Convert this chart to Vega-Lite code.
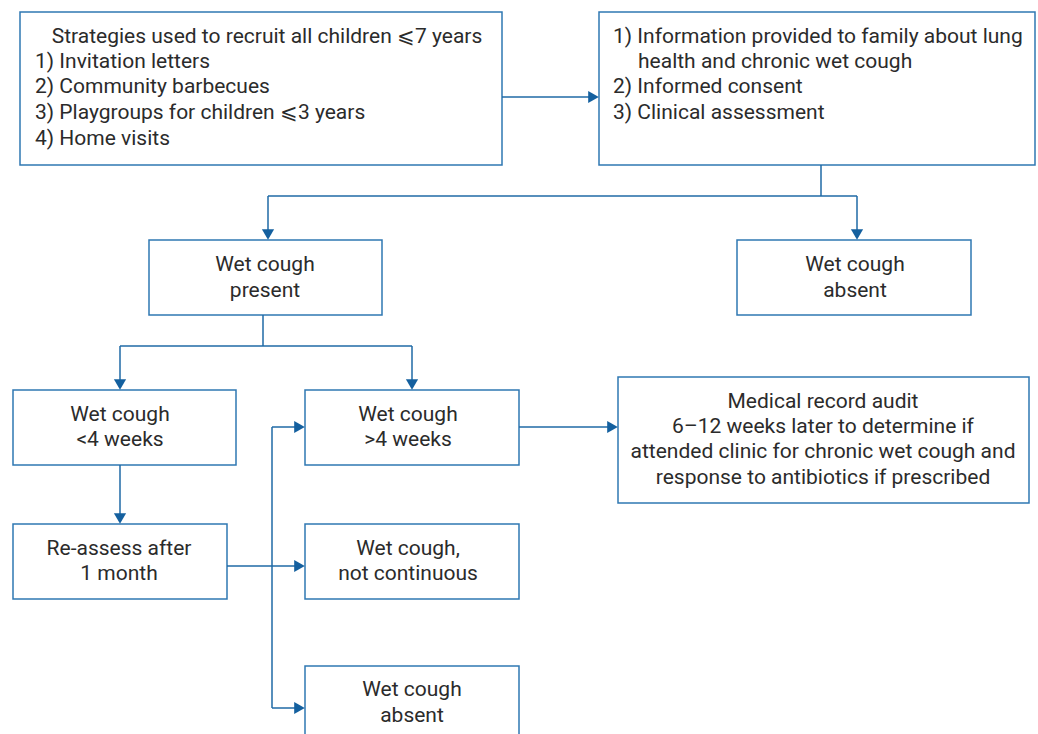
{
  "$schema": "https://vega.github.io/schema/vega-lite/v6.json",
  "width": 1038,
  "height": 734,
  "padding": 0,
  "autosize": {"type": "fit", "contains": "padding"},
  "background": "white",
  "config": {"view": {"stroke": null}},
  "datasets": {
    "boxes": [
      {"id": "A", "x1": 20, "x2": 502, "y1": 12, "y2": 165},
      {"id": "B", "x1": 599, "x2": 1035, "y1": 12, "y2": 165},
      {"id": "C", "x1": 149, "x2": 382, "y1": 240, "y2": 315},
      {"id": "D", "x1": 737, "x2": 971, "y1": 240, "y2": 315},
      {"id": "E", "x1": 13, "x2": 236, "y1": 390, "y2": 465},
      {"id": "F", "x1": 305, "x2": 519, "y1": 390, "y2": 465},
      {"id": "G", "x1": 618, "x2": 1029, "y1": 377, "y2": 503},
      {"id": "H", "x1": 13, "x2": 227, "y1": 524, "y2": 599},
      {"id": "I", "x1": 305, "x2": 519, "y1": 524, "y2": 599},
      {"id": "J", "x1": 305, "x2": 519, "y1": 666, "y2": 760}
    ],
    "lines": [
      {"x1": 502, "y1": 97, "x2": 592, "y2": 97},
      {"x1": 821, "y1": 165, "x2": 821, "y2": 196},
      {"x1": 268, "y1": 196, "x2": 857, "y2": 196},
      {"x1": 268, "y1": 196, "x2": 268, "y2": 232},
      {"x1": 857, "y1": 196, "x2": 857, "y2": 232},
      {"x1": 263, "y1": 315, "x2": 263, "y2": 346},
      {"x1": 120, "y1": 346, "x2": 412, "y2": 346},
      {"x1": 120, "y1": 346, "x2": 120, "y2": 382},
      {"x1": 412, "y1": 346, "x2": 412, "y2": 382},
      {"x1": 120, "y1": 465, "x2": 120, "y2": 516},
      {"x1": 227, "y1": 566, "x2": 298, "y2": 566},
      {"x1": 272, "y1": 427, "x2": 272, "y2": 708},
      {"x1": 272, "y1": 427, "x2": 298, "y2": 427},
      {"x1": 272, "y1": 708, "x2": 298, "y2": 708},
      {"x1": 519, "y1": 427, "x2": 611, "y2": 427}
    ],
    "arrowsDown": [
      {"x": 268, "y": 240},
      {"x": 857, "y": 240},
      {"x": 120, "y": 390},
      {"x": 412, "y": 390},
      {"x": 120, "y": 524}
    ],
    "arrowsRight": [
      {"x": 599, "y": 97},
      {"x": 305, "y": 566},
      {"x": 305, "y": 427},
      {"x": 305, "y": 708},
      {"x": 618, "y": 427}
    ],
    "textsCenter": [
      {"t": "Strategies used to recruit all children ⩽7 years", "x": 267, "y": 37},
      {"t": "Wet cough", "x": 265, "y": 265},
      {"t": "present", "x": 265, "y": 291},
      {"t": "Wet cough", "x": 855, "y": 265},
      {"t": "absent", "x": 855, "y": 291},
      {"t": "Wet cough", "x": 120, "y": 415},
      {"t": "<4 weeks", "x": 120, "y": 440},
      {"t": "Wet cough", "x": 408, "y": 415},
      {"t": ">4 weeks", "x": 408, "y": 440},
      {"t": "Medical record audit", "x": 823, "y": 402},
      {"t": "6–12 weeks later to determine if", "x": 823, "y": 427},
      {"t": "attended clinic for chronic wet cough and", "x": 823, "y": 452},
      {"t": "response to antibiotics if prescribed", "x": 823, "y": 478},
      {"t": "Re-assess after", "x": 119, "y": 549},
      {"t": "1 month", "x": 119, "y": 574},
      {"t": "Wet cough,", "x": 408, "y": 549},
      {"t": "not continuous", "x": 408, "y": 574},
      {"t": "Wet cough", "x": 412, "y": 690},
      {"t": "absent", "x": 412, "y": 716}
    ],
    "textsLeft": [
      {"t": "1) Invitation letters", "x": 35, "y": 62},
      {"t": "2) Community barbecues", "x": 35, "y": 87},
      {"t": "3) Playgroups for children ⩽3 years", "x": 35, "y": 113},
      {"t": "4) Home visits", "x": 35, "y": 139},
      {"t": "1) Information provided to family about lung", "x": 613, "y": 37},
      {"t": "health and chronic wet cough", "x": 638, "y": 62},
      {"t": "2) Informed consent", "x": 613, "y": 87},
      {"t": "3) Clinical assessment", "x": 613, "y": 113}
    ]
  },
  "layer": [
    {
      "data": {"name": "boxes"},
      "mark": {"type": "rect", "fill": "white", "stroke": "#2f78b3", "strokeWidth": 1.5, "clip": true},
      "encoding": {
        "x": {"field": "x1", "type": "quantitative", "scale": {"domain": [0, 1038], "nice": false, "zero": false}, "axis": null},
        "x2": {"field": "x2"},
        "y": {"field": "y1", "type": "quantitative", "scale": {"domain": [0, 734], "nice": false, "zero": false, "reverse": true}, "axis": null},
        "y2": {"field": "y2"}
      }
    },
    {
      "data": {"name": "lines"},
      "mark": {"type": "rule", "stroke": "#1f6aa6", "strokeWidth": 1.5},
      "encoding": {
        "x": {"field": "x1", "type": "quantitative"},
        "x2": {"field": "x2"},
        "y": {"field": "y1", "type": "quantitative"},
        "y2": {"field": "y2"}
      }
    },
    {
      "data": {"name": "arrowsDown"},
      "mark": {"type": "point", "shape": "triangle-down", "filled": true, "color": "#14609f", "opacity": 1, "size": 150, "yOffset": -5.5},
      "encoding": {
        "x": {"field": "x", "type": "quantitative"},
        "y": {"field": "y", "type": "quantitative"}
      }
    },
    {
      "data": {"name": "arrowsRight"},
      "mark": {"type": "point", "shape": "triangle-right", "filled": true, "color": "#14609f", "opacity": 1, "size": 150, "xOffset": -5.5},
      "encoding": {
        "x": {"field": "x", "type": "quantitative"},
        "y": {"field": "y", "type": "quantitative"}
      }
    },
    {
      "data": {"name": "textsCenter"},
      "mark": {"type": "text", "align": "center", "baseline": "middle", "font": "Roboto", "fontSize": 21, "color": "#2b2b2b"},
      "encoding": {
        "x": {"field": "x", "type": "quantitative"},
        "y": {"field": "y", "type": "quantitative"},
        "text": {"field": "t"}
      }
    },
    {
      "data": {"name": "textsLeft"},
      "mark": {"type": "text", "align": "left", "baseline": "middle", "font": "Roboto", "fontSize": 21, "color": "#2b2b2b"},
      "encoding": {
        "x": {"field": "x", "type": "quantitative"},
        "y": {"field": "y", "type": "quantitative"},
        "text": {"field": "t"}
      }
    }
  ]
}
